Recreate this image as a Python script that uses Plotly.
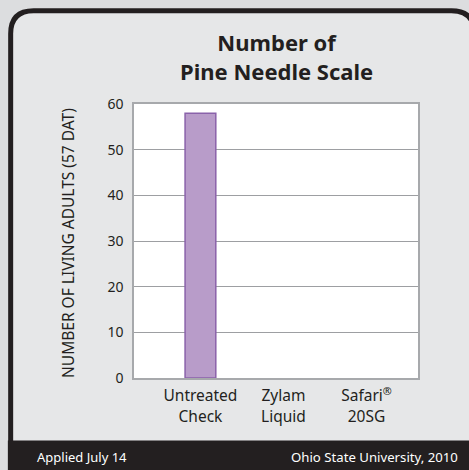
import plotly.graph_objects as go

categories = ["Untreated<br>Check", "Zylam<br>Liquid", "Safari<sup>®</sup><br>20SG"]
values = [58, 0, 0]
y_ticks = [0, 10, 20, 30, 40, 50, 60]
title_lines = ["Number of", "Pine Needle Scale"]

W, H = 469, 470
L, R, T, B = 134, 417.7, 104, 378
FONT = "Noto Sans"

def px(x):
    return (x - L) / (R - L)

def py(y):
    return (B - y) / (B - T)

fig = go.Figure()
fig.add_trace(go.Bar(
    x=[0, 1, 2], y=values, width=0.37,
    marker=dict(color="#b89cc9", line=dict(color="#8a62aa", width=[1.5, 0, 0])),
    hoverinfo="skip",
))

# rounded panel path
xl, xr, yt, yb, r = 10.8, 474, 10.8, 445, 23
path = (f"M {px(xl)},{py(yb)} L {px(xl)},{py(yt + r)} "
        f"Q {px(xl)},{py(yt)} {px(xl + r)},{py(yt)} "
        f"L {px(xr - r)},{py(yt)} Q {px(xr)},{py(yt)} {px(xr)},{py(yt + r)} "
        f"L {px(xr)},{py(yb)} Z")

shapes = [
    dict(type="path", xref="paper", yref="paper", path=path,
         fillcolor="#e6e7e8", line=dict(color="#231f20", width=5), layer="below"),
    dict(type="rect", xref="paper", yref="paper", x0=0, x1=1, y0=0, y1=1,
         fillcolor="white", line=dict(width=0), layer="below"),
    dict(type="rect", xref="paper", yref="paper", x0=px(8), x1=px(480), y0=py(440.5), y1=py(475),
         fillcolor="#231f20", line=dict(width=0), layer="above"),
]

annotations = [
    dict(text="<b>" + "<br>".join(title_lines) + "</b>", x=px(276), y=py(56), xref="paper", yref="paper",
         xanchor="center", yanchor="middle", align="center",
         showarrow=False, font=dict(family=FONT, size=22, color="#231f20")),
    dict(text="NUMBER OF LIVING ADULTS (57 DAT)", x=px(68), y=py(243), xref="paper", yref="paper",
         xanchor="center", yanchor="middle",
         showarrow=False, textangle=-90, font=dict(family=FONT, size=15.5, color="#231f20")),
    dict(text="Applied July 14", x=px(35), y=py(457), xref="paper", yref="paper",
         xanchor="left", yanchor="middle", showarrow=False,
         font=dict(family=FONT, size=13, color="white")),
    dict(text="Ohio State University, 2010", x=px(460), y=py(457), xref="paper", yref="paper",
         xanchor="right", yanchor="middle", showarrow=False,
         font=dict(family=FONT, size=13.2, color="white")),
]

fig.update_layout(
    width=W, height=H,
    margin=dict(l=L, r=W - R, t=T, b=H - B, pad=0),
    paper_bgcolor="#dcdddf",
    plot_bgcolor="rgba(0,0,0,0)",
    showlegend=False,
    shapes=shapes,
    annotations=annotations,
    xaxis=dict(
        tickmode="array", tickvals=[0, 1, 2], ticktext=categories,
        range=[-0.8, 2.62], showgrid=False, zeroline=False,
        showline=True, linecolor="#a7a9ac", linewidth=1.5, mirror=True,
        ticks="", ticklabelstandoff=3,
        tickfont=dict(family=FONT, size=15.5, color="#231f20"),
    ),
    yaxis=dict(
        range=[0, 60], tickmode="array", tickvals=y_ticks,
        showgrid=True, gridcolor="#9d9fa2", gridwidth=1, zeroline=False,
        showline=True, linecolor="#a7a9ac", linewidth=1.5, mirror=True,
        ticks="", ticklabelstandoff=6,
        tickfont=dict(family=FONT, size=14, color="#231f20"),
    ),
)

fig.write_html("out.html", config={"displayModeBar": False},
               post_script="document.body.style.margin='0';document.body.style.overflow='hidden';")
